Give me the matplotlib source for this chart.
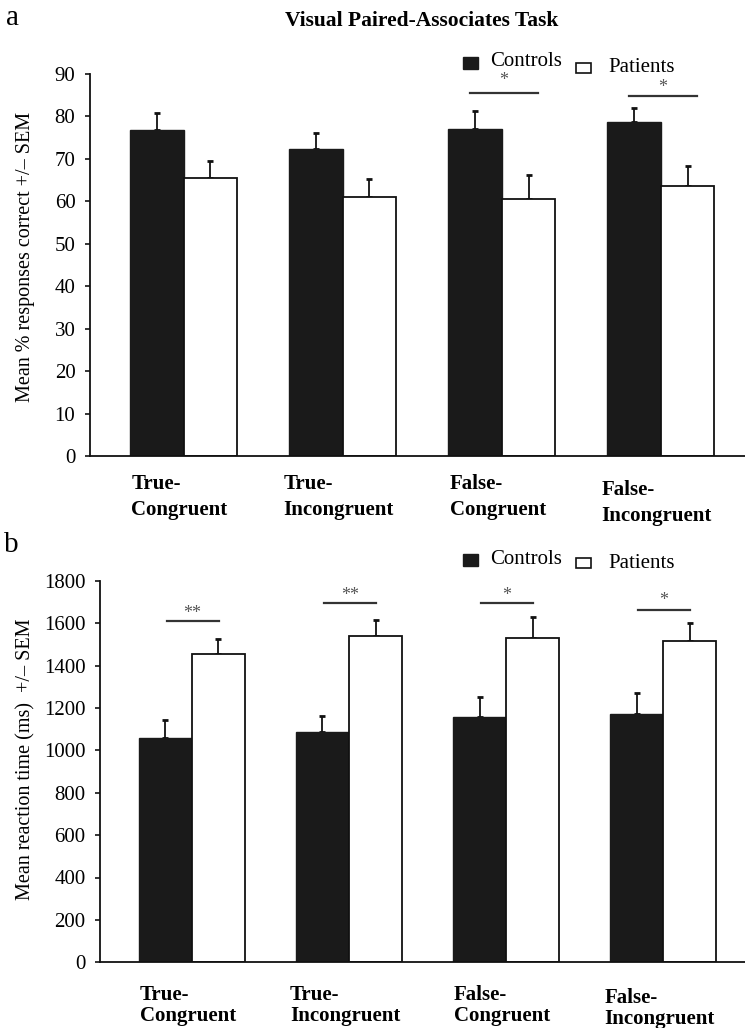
import matplotlib
matplotlib.use("Agg")
import matplotlib.pyplot as plt
import numpy as np
from matplotlib.patches import Rectangle

plt.rcParams['font.family'] = ['Liberation Serif', 'DejaVu Serif']

# data
categories = ['True-\nCongruent', 'True-\nIncongruent', 'False-\nCongruent', 'False-\nIncongruent']

acc_controls = [76.7, 72.4, 77.1, 78.6]
acc_controls_sem = [4.1, 3.7, 4.2, 3.3]
acc_patients = [65.6, 61.1, 60.6, 63.6]
acc_patients_sem = [4.0, 4.2, 5.6, 4.7]
acc_sig = ['', '', '*', '*']
acc_sig_y = [0, 0, 85.6, 84.9]
acc_star_y = [0, 0, 89.4, 87.8]

rt_controls = [1060, 1087, 1156, 1171]
rt_controls_sem = [82, 74, 96, 100]
rt_patients = [1452, 1540, 1529, 1515]
rt_patients_sem = [71, 73, 99, 85]
rt_sig = ['**', '**', '*', '*']
rt_sig_y = [1609, 1693, 1693, 1663]
rt_star_y = [1665, 1748, 1748, 1724]

W, H = 745, 1028
fig = plt.figure(figsize=(W / 100, H / 100), dpi=100)


def px_box(left, top, right, bottom):
    return [left / W, 1 - bottom / H, (right - left) / W, (bottom - top) / H]


def draw_panel(ax, controls, c_sem, patients, p_sem, sig, sig_y, star_y,
               sig_span, xlim, ylim, yticks, lab_off, lab_ls, last_extra):
    x = np.arange(len(categories))
    w = 0.338
    ax.bar(x - w / 2, controls, w, color='#1a1a1a', edgecolor='#1a1a1a', linewidth=1, zorder=2)
    ax.bar(x + w / 2, patients, w, color='white', edgecolor='#111111', linewidth=1.3, zorder=2)
    ax.errorbar(x - w / 2, controls, yerr=[np.zeros(len(x)), c_sem], fmt='none',
                ecolor='#111111', elinewidth=1.3, capsize=2.5, capthick=2, zorder=1)
    ax.errorbar(x + w / 2, patients, yerr=[np.zeros(len(x)), p_sem], fmt='none',
                ecolor='#111111', elinewidth=1.3, capsize=2.5, capthick=2, zorder=1)
    for i, s in enumerate(sig):
        if not s:
            continue
        mid = i + (sig_span[0] + sig_span[1]) / 2
        ax.plot([i + sig_span[0], i + sig_span[1]], [sig_y[i], sig_y[i]], color='#333333', lw=1.6)
        # asterisk glyph sits high in its box, so nudge it down
        ax.annotate(s, xy=(mid, star_y[i]), xytext=(0, -3), textcoords='offset points',
                    ha='center', va='center', fontsize=13, color='#555555')
    for i, lab in enumerate(categories):
        extra = last_extra if i == 3 else 0
        ax.annotate(lab, xy=(i - 0.025, 0), xycoords='data', xytext=(0, -(lab_off + extra)),
                    textcoords='offset points', ha='center', va='top', multialignment='left',
                    fontweight='bold', fontsize=15, linespacing=lab_ls)
    ax.set_xlim(*xlim)
    ax.set_ylim(*ylim)
    ax.set_yticks(yticks)
    ax.set_xticks([])
    for side in ['top', 'right']:
        ax.spines[side].set_visible(False)
    for side in ['left', 'bottom']:
        ax.spines[side].set_linewidth(1.3)
        ax.spines[side].set_color('#111111')
    ax.tick_params(axis='y', direction='out', length=3.5, width=1.1, labelsize=15, pad=7)


ax1 = fig.add_axes(px_box(90, 74, 745, 456))
draw_panel(ax1, acc_controls, acc_controls_sem, acc_patients, acc_patients_sem,
           acc_sig, acc_sig_y, acc_star_y, (-0.20, 0.23), (-0.588, 3.53), (0, 90),
           np.arange(0, 91, 10), 13, 1.38, 4.5)

ax2 = fig.add_axes(px_box(100, 580.7, 745, 962.3))
draw_panel(ax2, rt_controls, rt_controls_sem, rt_patients, rt_patients_sem,
           rt_sig, rt_sig_y, rt_star_y, (-0.16, 0.17), (-0.584, 3.52), (0, 1800),
           np.arange(0, 1801, 200), 16.5, 1.06, 2)

# labels, title, panel letters
fig.text(422 / W, 1 - 21 / H, 'Visual Paired-Associates Task', ha='center', va='center',
         fontweight='bold', fontsize=15.5)
fig.text(12 / W, 1 - 18 / H, 'a', ha='center', va='center', fontsize=21)
fig.text(11 / W, 1 - 545 / H, 'b', ha='center', va='center', fontsize=21)
fig.text(26 / W, 1 - 257 / H, 'Mean % responses correct +/\u2013 SEM', rotation=90,
         ha='center', va='center', fontsize=14.5)
fig.text(26 / W, 1 - 759 / H, 'Mean reaction time (ms)  +/\u2013 SEM', rotation=90,
         ha='center', va='center', fontsize=14.5)


# legends drawn by hand (two offset boxes as in the original)
def legend(y_black, y_white):
    fig.add_artist(Rectangle((463 / W, 1 - (y_black + 6) / H), 15.5 / W, 11.7 / H,
                             transform=fig.transFigure, facecolor='#1a1a1a', edgecolor='#1a1a1a'))
    fig.text(490 / W, 1 - (y_black - 1) / H, 'Controls', ha='left', va='center', fontsize=15)
    fig.add_artist(Rectangle((576 / W, 1 - (y_white + 5) / H), 14.7 / W, 10 / H,
                             transform=fig.transFigure, facecolor='white', edgecolor='#111111',
                             linewidth=1.2))
    fig.text(608 / W, 1 - y_white / H, 'Patients', ha='left', va='center', fontsize=15)


legend(63, 68)
legend(560, 563)

fig.savefig('out.png', dpi=100)
